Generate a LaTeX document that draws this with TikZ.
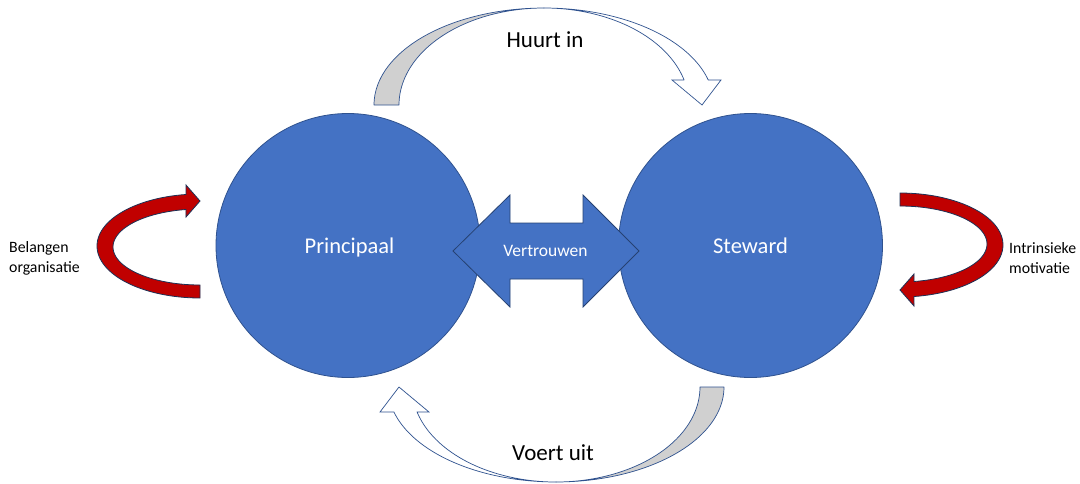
\documentclass[tikz,border=0pt]{standalone}
\usepackage{fontspec}
\setmainfont{Carlito}
\definecolor{circblue}{HTML}{4472C4}
\definecolor{edgeblue}{HTML}{2F528F}
\definecolor{arrowred}{HTML}{C00000}
\definecolor{bandgray}{HTML}{D0D0D0}
\tikzset{
  party/.style={circle, minimum size=264pt, inner sep=0pt, fill=circblue, draw=edgeblue, line width=0.8pt},
  inlabel/.style={text=white, inner sep=0pt, font=\fontsize{22.5}{27}\selectfont},
  flowlabel/.style={inner sep=0pt, font=\fontsize{23}{28}\selectfont},
  sidelabel/.style={inner sep=0pt, align=left, font=\fontsize{15.8}{20}\selectfont},
  bandback/.style={fill=bandgray, draw=edgeblue, line width=0.7pt, line join=round},
  bandfront/.style={fill=white, draw=edgeblue, line width=0.7pt, line join=miter},
  loop/.style={fill=arrowred, draw=edgeblue!60!black, line width=0.8pt, line join=miter},
  trust/.style={fill=circblue, draw=edgeblue!80!black, line width=0.8pt, line join=miter}
}
\begin{document}
\begin{tikzpicture}[x=1pt, y=-1pt]
\useasboundingbox (0,0) rectangle (1080,483);
\fill[white] (0,0) rectangle (1080,483);

% the two parties
\node[party] (principaal) at (348,245.5) {};
\node[party] (steward) at (750.5,245.5) {};
\node[inlabel, anchor=base] (tprin) at (349.5,253) {Principaal};
\node[inlabel, anchor=base] (tstew) at (750.5,253) {Steward};

% two-headed block arrow between the parties
\filldraw[trust] (453,251) -- (510,195) -- (510,223) -- (583,223) -- (583,195)
  -- (639,251) -- (583,307) -- (583,279) -- (510,279) -- (510,307) -- cycle;
\node[text=white, inner sep=0pt, font=\fontsize{17.5}{21}\selectfont, anchor=base] (ttrust) at (545.5,256) {Vertrouwen};

% upper curved arrow: principal hires steward
\filldraw[bandback]
  plot[domain=180:270, samples=50] ({544+170*cos(\x)},{105+97*sin(\x)})
  -- plot[domain=270:180, samples=50] ({544+145*cos(\x)},{105+97*sin(\x)}) -- cycle;
\filldraw[bandfront]
  plot[domain=270:345, samples=50] ({544+170*cos(\x)},{105+97*sin(\x)})
  -- (721,80) -- (702,105) -- (672,80)
  -- plot[domain=345:270, samples=50] ({544+145*cos(\x)},{105+97*sin(\x)}) -- cycle;
\node[flowlabel, anchor=base] (thuur) at (545,47) {Huurt in};

% lower curved arrow: steward carries out
\filldraw[bandback]
  plot[domain=0:90, samples=50] ({556+168*cos(\x)},{387+95*sin(\x)})
  -- plot[domain=90:0, samples=50] ({556+144*cos(\x)},{387+95*sin(\x)}) -- cycle;
\filldraw[bandfront]
  plot[domain=90:164.7, samples=50] ({556+168*cos(\x)},{387+95*sin(\x)})
  -- (380,412) -- (399,387) -- (429,412)
  -- plot[domain=164.7:90, samples=50] ({556+144*cos(\x)},{387+95*sin(\x)}) -- cycle;
\node[flowlabel, anchor=base] (tvoer) at (553,460) {Voert uit};

% red feedback loops beside each party
\begin{scope}[shift={(200,246)}]
  \filldraw[loop]
    plot[domain=90:262.2, samples=60] ({103*cos(\x)},{52*sin(\x)})
    -- (-14,-61) -- (0,-45) -- (-14,-29)
    -- plot[domain=260.7:90, samples=60] ({87*cos(\x)},{1+38*sin(\x)}) -- cycle;
\end{scope}
\begin{scope}[shift={(900,245)}, rotate=180]
  \filldraw[loop]
    plot[domain=90:262.2, samples=60] ({103*cos(\x)},{52*sin(\x)})
    -- (-14,-61) -- (0,-45) -- (-14,-29)
    -- plot[domain=260.7:90, samples=60] ({87*cos(\x)},{1+38*sin(\x)}) -- cycle;
\end{scope}

\node[sidelabel, anchor=west] (tbelang) at (9,258) {Belangen\\organisatie};
\node[sidelabel, anchor=west] (tintr) at (1009,258) {Intrinsieke\\motivatie};
\end{tikzpicture}
\end{document}
